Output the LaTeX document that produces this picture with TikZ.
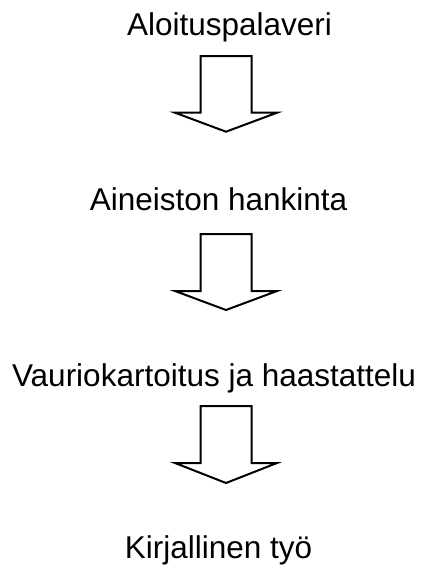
\documentclass[tikz,border=0pt]{standalone}
\usepackage{fontspec}
\setmainfont{Liberation Sans}
\begin{document}
\begin{tikzpicture}[x=1pt,y=1pt,
  lbl/.style={anchor=base,inner sep=0pt,font=\fontsize{31.5}{36}\selectfont},
  blockarrow/.style={draw=black,line width=2pt,line join=miter,fill=white}]
\useasboundingbox (0,0) rectangle (429,-565);
\node[lbl] (t1) at (229.5,-35) {Aloituspalaveri};
\node[lbl] (t2) at (218.5,-210.7) {Aineiston hankinta};
\node[lbl] (t3) at (214,-386) {Vauriokartoitus ja haastattelu};
\node[lbl] (t4) at (218.5,-558.3) {Kirjallinen työ};
% block arrows: top, base, tip
\foreach \top/\base/\tip [count=\i] in {56/112.7/131.7, 234/291/310, 406/463/483}{
  \draw[blockarrow] (200.7,-\top) -- (251.7,-\top) -- (251.7,-\base) -- (277,-\base)
    -- (226,-\tip) -- (175,-\base) -- (200.7,-\base) -- cycle;
}
\end{tikzpicture}
\end{document}
